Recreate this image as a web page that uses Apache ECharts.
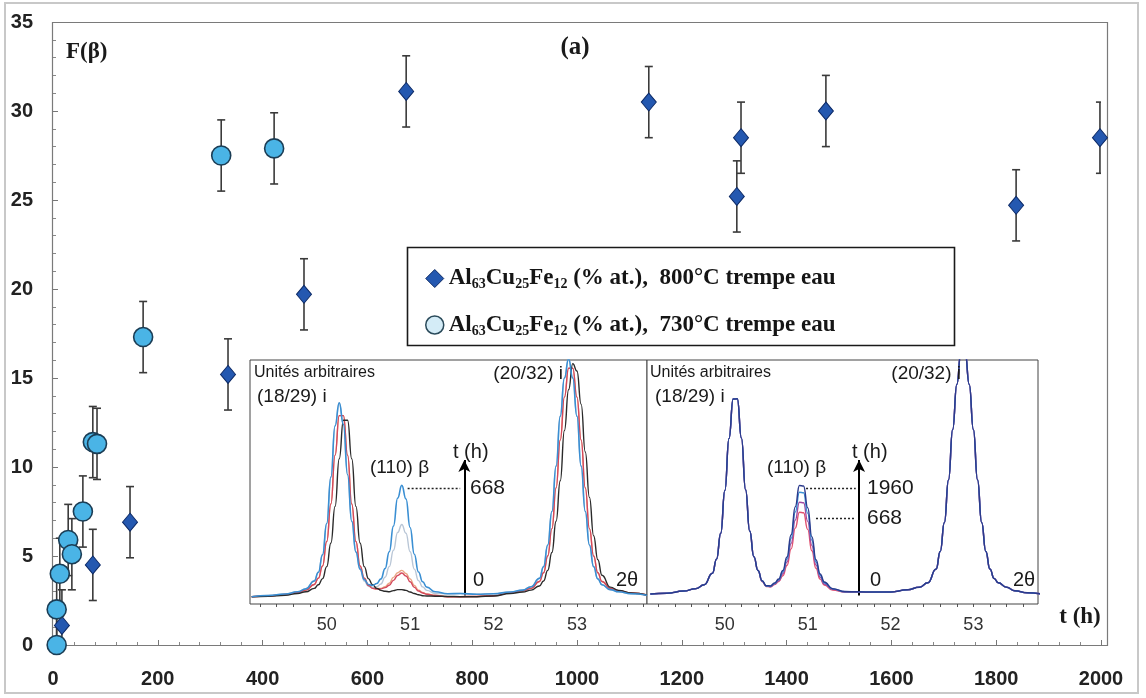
<!DOCTYPE html>
<html><head><meta charset="utf-8">
<script src="https://cdn.jsdelivr.net/npm/echarts@6/dist/echarts.min.js"></script>
<style>html,body{margin:0;padding:0;background:#fff}#c{width:1146px;height:698px}</style>
</head><body><div id="c"></div>
<script>
// ---- main chart data ----
const t800 = [17, 76, 147, 334, 479, 674, 1137, 1305, 1313, 1475, 1838, 1998];
const f800 = [1.1, 4.5, 6.9, 15.2, 19.7, 31.1, 30.5, 25.2, 28.5, 30.0, 24.7, 28.5];
const t730 = [7, 7, 13, 29, 36, 57, 76, 84, 172, 321, 422];
const f730 = [0, 2.0, 4.0, 5.9, 5.1, 7.5, 11.4, 11.3, 17.3, 27.5, 27.9];
const errF = 2;
const xTickLabels = [0, 200, 400, 600, 800, 1000, 1200, 1400, 1600, 1800, 2000];
const yTickLabels = [0, 5, 10, 15, 20, 25, 30, 35];
const n800 = 'Al63Cu25Fe12 (% at.),  800°C trempe eau';
const n730 = 'Al63Cu25Fe12 (% at.),  730°C trempe eau';

// ---- inset XRD data (2theta grid + intensities, arbitrary units) ----
const twoTheta = [49.1,49.3,49.5,49.65,49.75,49.85,49.9,49.95,50.0,50.05,50.1,50.15,50.2,50.25,50.3,50.35,50.4,50.45,50.5,50.55,50.6,50.65,50.7,50.75,50.8,50.85,50.9,50.95,51.0,51.05,51.1,51.15,51.2,51.3,51.45,51.6,51.8,52.0,52.2,52.35,52.45,52.55,52.6,52.65,52.7,52.75,52.8,52.85,52.9,52.95,53.0,53.05,53.1,53.15,53.2,53.25,53.3,53.4,53.5,53.65,53.84];
const insetTicks = [50, 51, 52, 53];
// left inset (800 °C)
const L668 = [3.0,3.5,4.1,5.0,6.2,9.4,13.0,20.2,33,52,73,82.5,73.6,53,33.9,21.3,14.3,10,8.0,7.6,8.4,10.3,14.5,21.4,31.9,43.4,48.6,43.1,31.3,20.4,13.1,9.1,6.9,5.0,4.2,4.3,4.0,4.2,4.9,5.7,7.1,10.5,15.3,24.2,37.9,56.5,77,92.6,100.5,92.6,77,56.5,37.9,24.2,15.3,10.3,7.9,5.9,5.0,4.2,3.6];
const Lgrey = [3.0,3.5,4.1,5.0,6.2,9.4,13.0,20.2,33,52,73,82.5,73.6,53,33.9,21.3,14.3,9.4,7.3,6.6,7.1,8.2,11.0,15.3,22,29.3,32.6,29,21.4,14.3,9.6,7.0,5.6,4.3,4.2,4.3,4.0,4.2,4.9,5.7,7.1,10.5,15.3,24.2,37.9,56.5,77,92.6,100.5,92.6,77,56.5,37.9,24.2,15.3,10.3,7.9,5.9,5.0,4.2,3.6];
const Lsalmon = [3.0,3.3,3.9,4.7,5.7,8.0,10.6,15.6,25.6,41,61,77.2,77.2,61,41,25.6,15.6,10.6,7.7,6.6,6.3,6.4,7.1,8.5,10.9,12.8,13.8,12.5,10.3,7.6,5.7,4.7,4.1,3.6,3.0,3.0,3.1,3.4,4.5,5.4,6.4,9.2,12.8,19.7,30.9,47.6,67.2,84.8,96.6,96.6,84.8,67.2,47.6,30.9,19.7,12.8,9.2,6.4,5.4,4.5,3.7];
const Lred = [3.0,3.3,3.9,4.7,5.7,8.0,10.6,15.6,25.6,41,61,77.2,77.2,61,41,25.6,15.6,10.6,7.6,6.4,6.1,6.2,6.7,7.7,9.7,11.7,12.7,11.5,9.1,6.8,5.3,4.5,4.0,3.5,3.0,3.0,3.1,3.4,4.5,5.4,6.4,9.2,12.8,19.7,30.9,47.6,67.2,84.8,96.6,96.6,84.8,67.2,47.6,30.9,19.7,12.8,9.2,6.4,5.4,4.5,3.7];
const Lblack = [3.0,3.2,3.6,4.3,5.0,6.4,7.9,10.4,15.3,25,40,59.5,75.3,75.3,59.5,40,25,15.3,10.4,7.9,6.4,5.6,5.2,5.0,5.5,5.9,5.9,5.6,4.9,4.3,3.8,3.4,3.3,3.2,3.1,3.0,3.0,3.3,4.3,4.9,5.7,7.4,9.4,13.8,21.1,33.9,50.5,71.1,87.8,98.5,95.5,81.9,62.3,43.7,28,18.2,11.8,6.9,5.6,4.5,3.7];
// right inset (730 °C)
const R1960 = [4.1,4.4,5.3,6.3,7.9,12.6,18.4,29,46.5,67.8,84,84.1,68,46.8,29.9,19.4,13.7,9.5,7.5,7.4,8.6,10.2,13.7,19.3,28.4,39.9,48.6,48.4,39.4,27.6,18.1,12.3,9.0,6.3,5.1,5.0,4.9,4.9,5.8,6.9,8.7,14.3,21.5,33.4,50.9,71.5,90,103.4,103.4,90,71.5,50.9,33.4,21.5,14.3,10.5,8.7,6.9,5.4,4.6,4.0];
const Rblue = [4.1,4.4,5.3,6.3,7.9,12.6,18.4,29,46.5,67.8,84,84.1,68,46.8,29.9,19.4,13.7,9.4,7.4,7.3,8.4,9.9,13.2,18.4,26.9,37.7,45.8,45.6,37.2,26.1,17.2,11.8,8.7,6.2,5.0,5.0,4.9,4.9,5.8,6.9,8.7,14.3,21.5,33.4,50.9,71.5,90,103.4,103.4,90,71.5,50.9,33.4,21.5,14.3,10.5,8.7,6.9,5.4,4.6,4.0];
const R668 = [4.1,4.4,5.3,6.3,7.9,12.6,18.4,29,46.5,67.8,84,84.1,68,46.8,29.9,19.4,13.7,9.3,7.3,7.1,8.2,9.5,12.4,17.2,24.8,34.4,41.7,41.5,33.9,24,16,11,8.2,6.0,4.9,4.9,4.8,4.9,5.8,6.9,8.7,14.3,21.5,33.4,50.9,71.5,90,103.4,103.4,90,71.5,50.9,33.4,21.5,14.3,10.5,8.7,6.9,5.4,4.6,4.0];
const R0 = [4.1,4.4,5.3,6.3,7.9,12.6,18.4,29,46.5,67.8,84,84.1,68,46.8,29.9,19.4,13.7,9.2,7.2,7.0,8.0,9.2,11.6,15.8,22.6,31.1,37.6,37.4,30.6,21.8,14.6,10.2,7.8,5.7,4.8,4.8,4.8,4.9,5.8,6.9,8.7,14.3,21.5,33.4,50.9,71.5,90,103.4,103.4,90,71.5,50.9,33.4,21.5,14.3,10.5,8.7,6.9,5.4,4.6,4.0];

// ---- build ----
const pairs = arr => twoTheta.map((x, i) => [x, arr[i]]);
const errData = (ts, fs) => ts.map((t, i) => [t, fs[i], errF]);

function errRender(params, api) {
  const x = api.value(0), y = api.value(1), e = api.value(2);
  const hi = api.coord([x, y + e]), lo = api.coord([x, y - e]);
  const w = 4;
  const style = { stroke: '#3a3a3a', lineWidth: 1.6 };
  return { type: 'group', children: [
    { type: 'line', shape: { x1: hi[0], y1: hi[1], x2: lo[0], y2: lo[1] }, style },
    { type: 'line', shape: { x1: hi[0] - w, y1: hi[1], x2: hi[0] + w, y2: hi[1] }, style },
    { type: 'line', shape: { x1: lo[0] - w, y1: lo[1], x2: lo[0] + w, y2: lo[1] }, style }
  ]};
}

function xrdLine(name, arr, color, xi, width, extra) {
  return Object.assign({
    name, type: 'line', xAxisIndex: xi, yAxisIndex: xi, data: pairs(arr),
    showSymbol: false, smooth: 0.5, smoothMonotone: 'x', clip: true, silent: true,
    lineStyle: { color, width: width || 1.4 }, itemStyle: { color }, z: 5
  }, extra || {});
}

const arrowStyle = { color: '#000', width: 2, type: 'solid' };
const dotStyle = { color: '#222', width: 1.3, type: [2, 2] };

const insetAxisX = (gi, min, max) => ({
  type: 'value', gridIndex: gi, min, max,
  axisLine: { show: false },
  axisTick: { show: true, inside: false, length: 3, customValues: [49.2,49.4,49.6,49.8,50,50.2,50.4,50.6,50.8,51,51.2,51.4,51.6,51.8,52,52.2,52.4,52.6,52.8,53,53.2,53.4,53.6,53.8].filter(v => v > min && v < max), lineStyle: { color: '#555' } },
  axisLabel: { customValues: insetTicks, margin: 12, fontSize: 18, color: '#333', fontFamily: 'Liberation Sans' },
  splitLine: { show: false }
});
const insetAxisY = gi => ({
  type: 'value', gridIndex: gi, min: 0, max: 100,
  axisLine: { show: false }, axisTick: { show: false }, axisLabel: { show: false }, splitLine: { show: false }
});

const serif = '"Liberation Serif", "Times New Roman", serif';
const sans = '"Liberation Sans", Arial, sans-serif';

const richLegend = {
  t: { fontFamily: serif, fontWeight: 'bold', fontSize: 23, color: '#151515' },
  s: { fontFamily: serif, fontWeight: 'bold', fontSize: 14, color: '#151515', padding: [12, 0, 0, 0] }
};

function txt(text, x, y, size, align, font) {
  return { type: 'text', z: 100, x, y, style: {
    text, font: (font || '') + ' ' + size + 'px ' + sans, fill: '#1a1a1a',
    textAlign: align || 'left', textVerticalAlign: 'middle', align: align || 'left', verticalAlign: 'middle' } };
}

const chart = echarts.init(document.getElementById('c'), null, { renderer: 'canvas' });
chart.setOption({
  backgroundColor: '#fff',
  animation: false,
  grid: [
    { left: 53, right: 45, top: 22, bottom: 53, show: false },
    { left: 250, width: 397, top: 360, height: 244, show: true, backgroundColor: '#fff', borderColor: '#444', borderWidth: 1, z: 3 },
    { left: 647, width: 391, top: 360, height: 244, show: true, backgroundColor: '#fff', borderColor: '#444', borderWidth: 1, z: 3 }
  ],
  xAxis: [
    { type: 'value', gridIndex: 0, min: 0, max: 2000, interval: 200,
      axisLine: { show: false },
      axisTick: { show: true, inside: true, length: 5, lineStyle: { color: '#777' } },
      minorTick: { show: true, splitNumber: 5, length: 3, lineStyle: { color: '#888' } },
      axisLabel: { margin: 24, fontSize: 20, fontWeight: 'bold', color: '#222', fontFamily: sans, formatter: v => String(v) },
      splitLine: { show: false } },
    insetAxisX(1, 49.08, 53.84),
    insetAxisX(2, 49.06, 53.78)
  ],
  yAxis: [
    { type: 'value', gridIndex: 0, min: 0, max: 35, interval: 5,
      axisLine: { show: false },
      axisTick: { show: true, inside: true, length: 5, lineStyle: { color: '#777' } },
      minorTick: { show: true, splitNumber: 5, length: 3, lineStyle: { color: '#888' } },
      axisLabel: { margin: 20, fontSize: 20, fontWeight: 'bold', color: '#222', fontFamily: sans, formatter: v => String(v) },
      splitLine: { show: false } },
    insetAxisY(1),
    insetAxisY(2)
  ],
  legend: {
    data: [
      { name: n800, icon: 'diamond', itemStyle: { color: '#2458b0', borderColor: '#0d2a66', borderWidth: 1 } },
      { name: n730, icon: 'circle', itemStyle: { color: '#d4ecf7', borderColor: '#2a4a5a', borderWidth: 1.5 } }
    ],
    orient: 'vertical', left: 420, top: 262, itemWidth: 18, itemHeight: 18, itemGap: 22,
    selectedMode: false,
    formatter: name => '{t|Al}{s|63}{t|Cu}{s|25}{t|Fe}{s|12}{t|' + name.replace('Al63Cu25Fe12', '') + '}',
    textStyle: { rich: richLegend }
  },
  graphic: [
    { type: 'rect', z: -1, shape: { x: 5, y: 3, width: 1133, height: 690 }, style: { fill: null, stroke: '#c8c8c8', lineWidth: 2 } },
    { type: 'rect', z: 1, shape: { x: 52.5, y: 22.5, width: 1055, height: 623 }, style: { fill: null, stroke: '#7a7a7a', lineWidth: 1.2 } },
    { type: 'rect', z: 1, shape: { x: 407.5, y: 247.5, width: 547, height: 98 }, style: { fill: '#fff', stroke: '#1a1a1a', lineWidth: 1.6 } },
    { type: 'text', z: 100, x: 66, y: 52, style: { text: 'F(β)', font: 'bold 23px ' + serif, fill: '#1a1a1a', textVerticalAlign: 'middle', verticalAlign: 'middle' } },
    { type: 'text', z: 100, x: 575, y: 48, style: { text: '(a)', font: 'bold 25px ' + serif, fill: '#1a1a1a', textAlign: 'center', align: 'center', textVerticalAlign: 'middle', verticalAlign: 'middle' } },
    { type: 'text', z: 100, x: 1080, y: 617, style: { text: 't (h)', font: 'bold 23px ' + serif, fill: '#1a1a1a', textAlign: 'center', align: 'center', textVerticalAlign: 'middle', verticalAlign: 'middle' } },
    // left inset annotations
    txt('Unités arbitraires', 254, 373, 16),
    txt('(18/29) i', 257, 397, 19),
    txt('(20/32) i', 563, 374, 19, 'right'),
    txt('(110) β', 370, 468, 19),
    txt('t (h)', 453, 452, 20),
    txt('668', 470, 488, 21),
    txt('0', 473, 580, 20),
    txt('2θ', 616, 580, 20),
    // right inset annotations
    txt('Unités arbitraires', 650, 373, 16),
    txt('(18/29) i', 655, 397, 19),
    txt('(20/32) i', 961, 374, 19, 'right'),
    txt('(110) β', 767, 468, 19),
    txt('t (h)', 852, 452, 20),
    txt('1960', 867, 488, 21),
    txt('668', 867, 518, 21),
    txt('0', 870, 580, 20),
    txt('2θ', 1013, 580, 20)
  ],
  series: [
    { type: 'custom', name: 'err800', xAxisIndex: 0, yAxisIndex: 0, renderItem: errRender, data: errData(t800, f800), encode: { x: 0, y: 1 }, clip: true, silent: true, z: 2 },
    { type: 'custom', name: 'err730', xAxisIndex: 0, yAxisIndex: 0, renderItem: errRender, data: errData(t730, f730), encode: { x: 0, y: 1 }, clip: true, silent: true, z: 2 },
    { type: 'scatter', name: n800, xAxisIndex: 0, yAxisIndex: 0, data: t800.map((t, i) => [t, f800[i]]), symbol: 'diamond', symbolSize: [15, 18],
      itemStyle: { color: '#2458b0', borderColor: '#0d2a66', borderWidth: 1, opacity: 1 }, z: 4 },
    { type: 'scatter', name: n730, xAxisIndex: 0, yAxisIndex: 0, data: t730.map((t, i) => [t, f730[i]]), symbol: 'circle', symbolSize: 19,
      itemStyle: { color: '#4ab4e6', borderColor: '#1b3d55', borderWidth: 1.6, opacity: 1 }, z: 4 },
    // left inset
    xrdLine('L salmon', Lsalmon, '#e9a583', 1),
    xrdLine('L grey', Lgrey, '#b9c6d6', 1),
    xrdLine('L red', Lred, '#d4485c', 1),
    xrdLine('L black', Lblack, '#2a2a2a', 1),
    xrdLine('L 668', L668, '#3a8fd3', 1, 1.6, { markLine: { silent: true, symbol: ['none', 'none'], label: { show: false },
      data: [
        [{ coord: [51.65, 3.5], lineStyle: arrowStyle, symbol: 'none' }, { coord: [51.65, 59], symbol: 'arrow', symbolSize: [9, 12] }],
        [{ coord: [50.97, 47.5], lineStyle: dotStyle }, { coord: [51.6, 47.5] }]
      ] } }),
    // right inset
    xrdLine('R 0', R0, '#e0506e', 2),
    xrdLine('R 668', R668, '#a04aa0', 2),
    xrdLine('R blue', Rblue, '#3c92d6', 2),
    xrdLine('R 1960', R1960, '#2b3a8c', 2, 1.5, { markLine: { silent: true, symbol: ['none', 'none'], label: { show: false },
      data: [
        [{ coord: [51.62, 3.5], lineStyle: arrowStyle, symbol: 'none' }, { coord: [51.62, 59], symbol: 'arrow', symbolSize: [9, 12] }],
        [{ coord: [50.98, 47.5], lineStyle: dotStyle }, { coord: [51.58, 47.5] }],
        [{ coord: [51.1, 35.2], lineStyle: dotStyle }, { coord: [51.58, 35.2] }]
      ] } })
  ]
});
</script>
</body></html>
